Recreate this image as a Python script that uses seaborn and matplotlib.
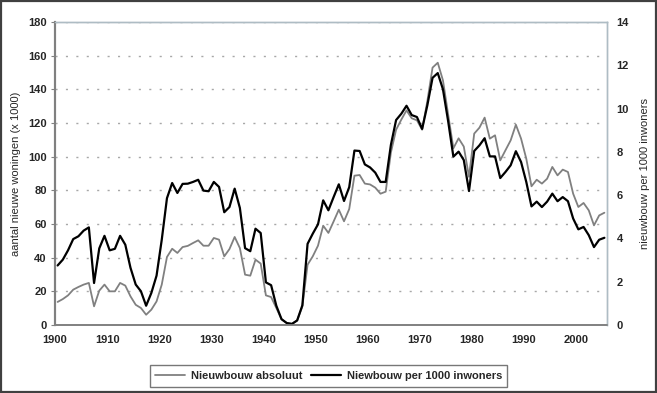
import numpy as np
import pandas as pd
import matplotlib.pyplot as plt
import seaborn as sns
from matplotlib.patches import Rectangle
from matplotlib.ticker import MultipleLocator

# =========================================================
# 1. DATA
# =========================================================

years = list(range(1900, 2006))

# Nieuwbouw absoluut (x 1000 woningen), left axis
nieuwbouw_absoluut = [
    13.7, 15.4, 17.6, 21.0, 22.6, 24.0, 25.0, 11.1, 20.4, 24.0,   # 1900-1909
    20.0, 20.0, 25.0, 23.4, 17.0, 12.0, 10.1, 6.1, 9.1, 14.0,     # 1910-1919
    24.0, 40.4, 45.3, 42.8, 46.3, 47.0, 48.7, 50.3, 47.1, 47.1,   # 1920-1929
    51.7, 50.7, 40.8, 45.1, 52.3, 45.7, 29.9, 29.3, 38.8, 36.5,   # 1930-1939
    17.6, 16.6, 10.1, 3.4, 1.2, 0.7, 2.7, 11.0, 35.8, 40.8,       # 1940-1949
    47.1, 59.0, 54.7, 61.5, 68.5, 61.6, 68.9, 88.7, 89.1, 84.0,   # 1950-1959
    83.5, 81.6, 78.0, 79.2, 102.4, 116.0, 122.0, 127.5, 122.8, 121.6,  # 1960-1969
    116.0, 133.0, 152.9, 155.8, 145.3, 125.0, 105.0, 110.9, 106.0, 88.0,  # 1970-1979
    113.7, 117.2, 123.2, 110.7, 112.7, 97.8, 103.8, 109.7, 119.0, 110.7,  # 1980-1989
    98.8, 82.4, 86.3, 84.0, 86.9, 93.9, 88.9, 92.3, 90.9, 78.0,   # 1990-1999
    70.1, 72.5, 68.1, 59.2, 65.1, 66.7,                           # 2000-2005
]

# Niewbouw per 1000 inwoners, right axis
nieuwbouw_per_1000 = [
    2.75, 3.02, 3.45, 3.97, 4.10, 4.36, 4.51, 1.94, 3.54, 4.12,   # 1900-1909
    3.45, 3.52, 4.12, 3.71, 2.64, 1.87, 1.56, 0.89, 1.48, 2.28,   # 1910-1919
    3.94, 5.86, 6.56, 6.10, 6.52, 6.53, 6.61, 6.71, 6.21, 6.18,   # 1920-1929
    6.61, 6.38, 5.21, 5.45, 6.30, 5.41, 3.55, 3.41, 4.45, 4.25,   # 1930-1939
    1.97, 1.84, 0.89, 0.27, 0.09, 0.05, 0.21, 0.91, 3.75, 4.22,   # 1940-1949
    4.65, 5.76, 5.30, 5.91, 6.50, 5.73, 6.37, 8.06, 8.04, 7.42,   # 1950-1959
    7.28, 7.04, 6.61, 6.61, 8.32, 9.47, 9.76, 10.13, 9.70, 9.61,  # 1960-1969
    9.06, 10.15, 11.42, 11.64, 10.89, 9.41, 7.78, 8.01, 7.62, 6.19,  # 1970-1979
    8.04, 8.30, 8.63, 7.79, 7.79, 6.79, 7.07, 7.38, 8.03, 7.53,   # 1980-1989
    6.61, 5.48, 5.70, 5.45, 5.70, 6.07, 5.72, 5.91, 5.72, 4.92,   # 1990-1999
    4.42, 4.53, 4.15, 3.60, 3.94, 4.03,                           # 2000-2005
]

label_abs = "Nieuwbouw absoluut"
label_rel = "Niewbouw per 1000 inwoners"

df = pd.DataFrame({
    "jaar": years,
    "absoluut": nieuwbouw_absoluut,
    "per1000": nieuwbouw_per_1000,
})
# category-style axis: each year sits in the middle of its slot
df["xpos"] = df["jaar"] + 0.5

# =========================================================
# 2. STYLE
# =========================================================

sns.set_style("white")
plt.rcParams["font.family"] = ["Liberation Sans", "DejaVu Sans"]

gray_line = "#808080"
grid_col = "#a8a8a8"
frame_col = "#aebcc4"

fig = plt.figure(figsize=(6.57, 3.93), dpi=100)
ax = fig.add_axes([55 / 657, 1 - 325 / 393, (607 - 55) / 657, (325 - 22) / 393])
ax2 = ax.twinx()

# =========================================================
# 3. LINES
# =========================================================

sns.lineplot(data=df, x="xpos", y="absoluut", ax=ax, color=gray_line,
             linewidth=1.3, label=label_abs, legend=False)
sns.lineplot(data=df, x="xpos", y="per1000", ax=ax2, color="black",
             linewidth=1.6, label=label_rel, legend=False)

ax.set_xlim(1900, 2006)
ax.set_ylim(0, 180)
ax2.set_ylim(0, 14)

ax.xaxis.set_major_locator(MultipleLocator(10))
ax.xaxis.set_minor_locator(MultipleLocator(5))
ax.yaxis.set_major_locator(MultipleLocator(20))
ax2.yaxis.set_major_locator(MultipleLocator(2))

ax.yaxis.grid(True, color=grid_col, linestyle=(0, (1.5, 6)), linewidth=1.0)
ax.xaxis.grid(False)
ax2.grid(False)

for a in (ax, ax2):
    a.spines["left"].set_color(gray_line)
    a.spines["left"].set_linewidth(1.5)
    a.spines["bottom"].set_color(gray_line)
    a.spines["bottom"].set_linewidth(1.2)
    a.spines["top"].set_color(frame_col)
    a.spines["top"].set_linewidth(1.0)
    a.spines["right"].set_color(frame_col)
    a.spines["right"].set_linewidth(1.0)

ax.tick_params(axis="x", which="both", direction="inout", length=6,
               width=0.8, color=gray_line, labelsize=8, pad=4)
ax.tick_params(axis="y", direction="out", length=3, width=0.8,
               color=gray_line, labelsize=8, pad=3)
ax2.tick_params(axis="y", direction="out", length=0, labelsize=8, pad=7)

for lbl in ax.get_xticklabels() + ax.get_yticklabels() + ax2.get_yticklabels():
    lbl.set_fontweight("bold")

ax.set_xlabel("")
ax.set_ylabel("aantal nieuwe woningen (x 1000)", fontsize=8, labelpad=5)
ax2.set_ylabel("nieuwbouw per 1000 inwoners", fontsize=8, labelpad=8)

# =========================================================
# 4. LEGEND + OUTER FRAME
# =========================================================

h1, l1 = ax.get_legend_handles_labels()
h2, l2 = ax2.get_legend_handles_labels()
leg = fig.legend(h1 + h2, l1 + l2, loc="center", ncol=2,
                 bbox_to_anchor=(0.5, 1 - 376 / 393),
                 frameon=True, fancybox=False, edgecolor="#555555",
                 prop={"size": 8, "weight": "bold"}, handlelength=2.7,
                 columnspacing=0.8, handletextpad=0.5, borderpad=0.5)
leg.get_frame().set_linewidth(1.0)

fig.patches.append(Rectangle((0.001, 0.002), 0.997, 0.995, transform=fig.transFigure,
                             fill=False, edgecolor="#404040", linewidth=1.6))

fig.savefig("out.png", dpi=100)
